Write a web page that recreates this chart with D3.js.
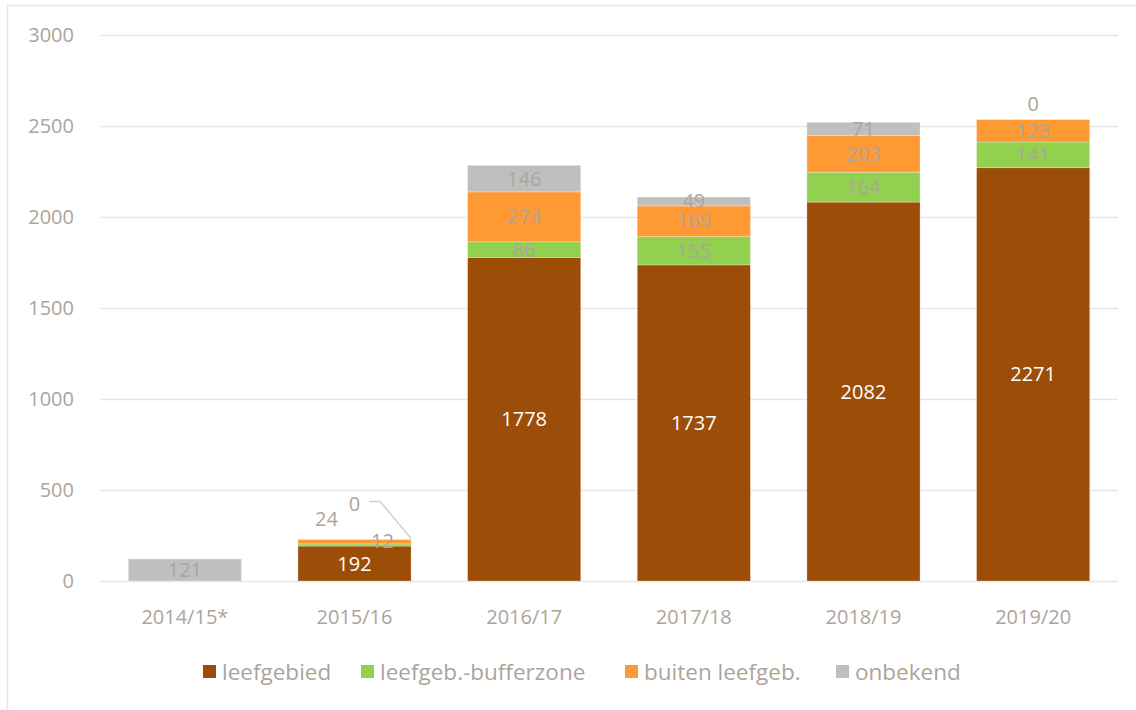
<!DOCTYPE html>
<html><head><meta charset="utf-8">
<script src="https://cdn.jsdelivr.net/npm/d3@7"></script>
<style>
body{margin:0;background:#fff;}
svg{display:block;font-family:"Open Sans","Noto Sans",sans-serif;}
</style></head>
<body><svg id="c" width="1136" height="710"></svg>
<script>
const categories = ["2014/15*","2015/16","2016/17","2017/18","2018/19","2019/20"];
const seriesNames = ["leefgebied","leefgeb.-bufferzone","buiten leefgeb.","onbekend"];
const leefgebied = [0,192,1778,1737,2082,2271];
const bufferzone = [0,12,86,155,164,141];
const buiten = [0,24,274,169,203,123];
const onbekend = [121,0,146,49,71,0];
const yTicks = [0,500,1000,1500,2000,2500,3000];
const colors = ["#9c4e08","#92d050","#ff9933","#bfbfbf"];

const svg = d3.select("#c");
const textCol = "#ada49b";
// frame
svg.append("path").attr("d","M7.5,710 V5.5 H1136").attr("fill","none").attr("stroke","#ebe7e3").attr("stroke-width",1.5);

const x = d3.scaleBand().domain(categories).range([100,1118]).paddingInner(0.333).paddingOuter(0.1667);
const y = d3.scaleLinear().domain([0,3000]).range([581,35]);

// grid
svg.append("g").selectAll("line").data(yTicks).join("line")
  .attr("x1",100).attr("x2",1118).attr("y1",d=>Math.round(y(d))+0.5).attr("y2",d=>Math.round(y(d))+0.5)
  .attr("stroke","#e6e6e6").attr("stroke-width",1.5);

// y axis
const ya = svg.append("g").attr("transform","translate(100,0)")
  .call(d3.axisLeft(y).tickValues(yTicks).tickFormat(d3.format("d")).tickSize(0).tickPadding(26));
ya.select(".domain").remove();
ya.selectAll("text").attr("fill",textCol).attr("font-size",20).attr("font-family","Open Sans").attr("dy","0.32em");

// x axis
const xa = svg.append("g").attr("transform","translate(0,581)").call(d3.axisBottom(x).tickSize(0).tickPadding(39));
xa.select(".domain").remove();
xa.selectAll("text").attr("fill",textCol).attr("font-size",20).attr("font-family","Open Sans").attr("dy","0.2em");

const rows = categories.map((c,i)=>({cat:c,"leefgebied":leefgebied[i],"leefgeb.-bufferzone":bufferzone[i],"buiten leefgeb.":buiten[i],"onbekend":onbekend[i]}));
const stack = d3.stack().keys(seriesNames)(rows);

const g = svg.append("g");
stack.forEach((s,si)=>{
  g.append("g").selectAll("rect").data(s).join("rect")
    .attr("x",d=>x(d.data.cat)).attr("width",x.bandwidth())
    .attr("y",d=>y(d[1])).attr("height",d=>y(d[0])-y(d[1]))
    .attr("fill",colors[si]).attr("stroke","#ffffff").attr("stroke-opacity",0.35).attr("stroke-width",0.8);
});

// labels
const lab = svg.append("g").attr("font-size",20).attr("font-family","Open Sans").attr("text-anchor","middle");
stack.forEach((s,si)=>{
  s.forEach((d,ci)=>{
    const v = d[1]-d[0];
    const cx = x(d.data.cat)+x.bandwidth()/2;
    let px = cx, py = y((d[0]+d[1])/2);
    if (ci===1) {
      const top = y(d[1]);
      if (si===0) { py = y((d[0]+d[1])/2); }
      else if (si===1) { px = cx+28; py = top-3; }
      else if (si===2) { px = cx-28; py = top-21; }
      else if (si===3) { px = cx; py = top-36; }
    } else if (v===0) {
      if (si!==3) return;
      if (ci===0) return;
      py = y(d[1])-16;
    }
    lab.append("text").attr("x",px).attr("y",py).attr("dy","0.35em")
      .attr("fill", si===0 ? "#ffffff" : textCol).text(v);
  });
});
// leader line for 2015/16 "0"
{
  const top = y(stack[3][1][1]);
  const bx = x(categories[1])+x.bandwidth();
  svg.append("polyline").attr("fill","none").attr("stroke","#d4cfca").attr("stroke-width",1.5)
    .attr("points",`${bx-42},${top-38} ${bx-31},${top-38} ${bx},${top-1}`);
}

// legend
const legX = [203,361,625,836];
const leg = svg.append("g");
seriesNames.forEach((n,i)=>{
  leg.append("rect").attr("x",legX[i]).attr("y",665).attr("width",13).attr("height",13).attr("fill",colors[i]);
  leg.append("text").attr("x",legX[i]+19).attr("y",672).attr("dy","0.35em").attr("font-size",22.5)
    .attr("font-family","Open Sans").attr("fill",textCol).text(n);
});
</script></body></html>
